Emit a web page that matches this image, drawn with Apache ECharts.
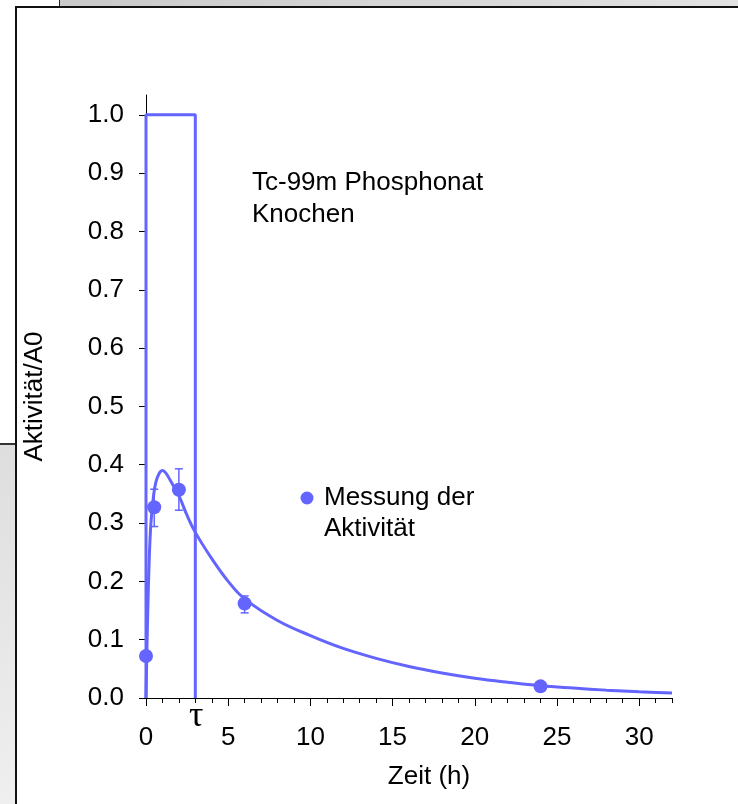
<!DOCTYPE html>
<html>
<head>
<meta charset="utf-8">
<script src="https://cdn.jsdelivr.net/npm/echarts@6/dist/echarts.min.js"></script>
<style>
  html, body { margin: 0; padding: 0; background: #fff; }
  #wrap { position: relative; width: 738px; height: 804px; overflow: hidden; }
  .bg { position: absolute; }
  #chart { position: absolute; left: 0; top: 0; width: 738px; height: 804px; }
</style>
</head>
<body>
<div id="wrap">
  <div class="bg" style="left:59px;top:0;width:679px;height:7px;background:linear-gradient(90deg,#c9c9c9,#e2e2e2);border-left:1px solid #222;"></div>
  <div class="bg" style="left:0;top:443px;width:16px;height:361px;background:linear-gradient(180deg,#dedede,#efefef);border-top:2px solid #333;"></div>
  <div class="bg" style="left:15px;top:6px;width:730px;height:810px;background:#fff;border-left:2px solid #111;border-top:2px solid #111;"></div>
  <div id="chart"></div>
</div>
<script>
// Zeit (h) und Aktivität/A0
var xMajor = [0, 5, 10, 15, 20, 25, 30]
var xMinor = [0, 1, 2, 3, 4, 5, 6, 7, 8, 9, 10, 11, 12, 13, 14, 15, 16, 17, 18, 19, 20, 21, 22, 23, 24, 25, 26, 27, 28, 29, 30, 31, 32]
var yTicks = [0, 0.1, 0.2, 0.3, 0.4, 0.5, 0.6, 0.7, 0.8, 0.9, 1.0]

var tau = 3
var rectData = [[0, 0], [0, 1], [3, 1], [3, 0]]

var curveT = [0, 0.1, 0.2, 0.3, 0.45, 0.6, 0.8, 1.0, 1.2, 1.5, 2, 2.5, 3, 4, 5, 6, 8, 10, 12, 14, 16, 18, 20, 22, 24, 26, 28, 30, 32]
var curveA = [0, 0.14, 0.24, 0.3, 0.345, 0.37, 0.385, 0.39, 0.386, 0.372, 0.347, 0.313, 0.284, 0.239, 0.2, 0.17, 0.133, 0.107, 0.085, 0.068, 0.054, 0.043, 0.034, 0.027, 0.021, 0.017, 0.0135, 0.0108, 0.0086]

var measT = [0, 0.5, 2, 6, 24]
var measA = [0.072, 0.327, 0.357, 0.162, 0.02]

var errT = [0.5, 2, 6]
var errLow = [0.294, 0.322, 0.146]
var errHigh = [0.358, 0.393, 0.175]

var blue = '#6464ff'
var font = 'Liberation Sans, Arial, sans-serif'

var chart = echarts.init(document.getElementById('chart'), null, { renderer: 'canvas' })

var option = {
  animation: false,
  backgroundColor: 'transparent',
  grid: { left: 146, right: 66, top: 95, bottom: 106, containLabel: false },
  xAxis: [{
    type: 'value',
    position: 'bottom',
    min: 0,
    max: 32,
    name: 'Zeit (h)',
    nameLocation: 'middle',
    nameGap: 66,
    nameTextStyle: { color: '#000', fontSize: 26, fontFamily: font, padding: [0, 0, 0, 40] },
    splitLine: { show: false },
    axisLine: { lineStyle: { color: '#000', width: 1 } },
    axisTick: { length: 8, lineStyle: { color: '#000' }, customValues: xMajor },
    axisLabel: { color: '#000', fontSize: 26, fontFamily: font, margin: 27, customValues: xMajor }
  }, {
    type: 'value',
    position: 'bottom',
    min: 0,
    max: 32,
    splitLine: { show: false },
    axisLine: { show: false },
    axisTick: { length: 5, lineStyle: { color: '#000' }, customValues: xMinor },
    axisLabel: { show: false }
  }],
  yAxis: {
    type: 'value',
    min: 0,
    max: 1.034,
    name: 'Aktivität/A0',
    nameLocation: 'middle',
    nameGap: 98,
    nameTextStyle: { color: '#000', fontSize: 26, fontFamily: font },
    splitLine: { show: false },
    axisLine: { show: true, lineStyle: { color: '#000', width: 1 } },
    axisTick: { show: true, length: 7, lineStyle: { color: '#000' }, customValues: yTicks },
    axisLabel: {
      color: '#000', fontSize: 26, fontFamily: font, margin: 22,
      customValues: yTicks,
      formatter: function (v) { return v.toFixed(1) }
    }
  },
  series: [{
    name: 'tau',
    type: 'line',
    data: rectData,
    symbol: 'none',
    lineStyle: { color: blue, width: 3 },
    z: 2
  }, {
    name: 'Modell',
    type: 'line',
    data: curveT.map(function (t, i) { return [t, curveA[i]] }),
    symbol: 'none',
    smooth: 0.4,
    lineStyle: { color: blue, width: 3 },
    z: 3
  }, {
    name: 'Fehler',
    type: 'custom',
    data: errT.map(function (t, i) { return [t, errLow[i], errHigh[i]] }),
    renderItem: function (params, api) {
      var lo = api.coord([api.value(0), api.value(1)])
      var hi = api.coord([api.value(0), api.value(2)])
      var w = 4
      var style = { stroke: blue, lineWidth: 1.5 }
      return {
        type: 'group',
        children: [
          { type: 'line', shape: { x1: lo[0], y1: lo[1], x2: hi[0], y2: hi[1] }, style: style },
          { type: 'line', shape: { x1: lo[0] - w, y1: lo[1], x2: lo[0] + w, y2: lo[1] }, style: style },
          { type: 'line', shape: { x1: hi[0] - w, y1: hi[1], x2: hi[0] + w, y2: hi[1] }, style: style }
        ]
      }
    },
    z: 4
  }, {
    name: 'Messung der Aktivität',
    type: 'scatter',
    data: measT.map(function (t, i) { return [t, measA[i]] }),
    symbol: 'circle',
    symbolSize: 14,
    itemStyle: { color: blue, opacity: 1 },
    z: 5
  }]
}

chart.setOption(option)

var tp = chart.convertToPixel({ xAxisIndex: 0, yAxisIndex: 0 }, [tau, 0])

chart.setOption({
  graphic: [{
    type: 'text', x: 252, y: 183,
    style: { text: 'Tc-99m Phosphonat', fill: '#000', font: '26px ' + font, textVerticalAlign: 'middle' }
  }, {
    type: 'text', x: 252, y: 215,
    style: { text: 'Knochen', fill: '#000', font: '26px ' + font, textVerticalAlign: 'middle' }
  }, {
    type: 'circle', shape: { cx: 307, cy: 498, r: 6.5 }, style: { fill: blue }
  }, {
    type: 'text', x: 324, y: 498,
    style: { text: 'Messung der', fill: '#000', font: '26px ' + font, textVerticalAlign: 'middle' }
  }, {
    type: 'text', x: 324, y: 529,
    style: { text: 'Aktivität', fill: '#000', font: '26px ' + font, textVerticalAlign: 'middle' }
  }, {
    type: 'text', x: tp[0] + 1, y: 717,
    style: { text: 'τ', fill: '#000', font: '36px Liberation Serif, DejaVu Serif, serif', textAlign: 'center', textVerticalAlign: 'middle' }
  }]
})
</script>
</body>
</html>
